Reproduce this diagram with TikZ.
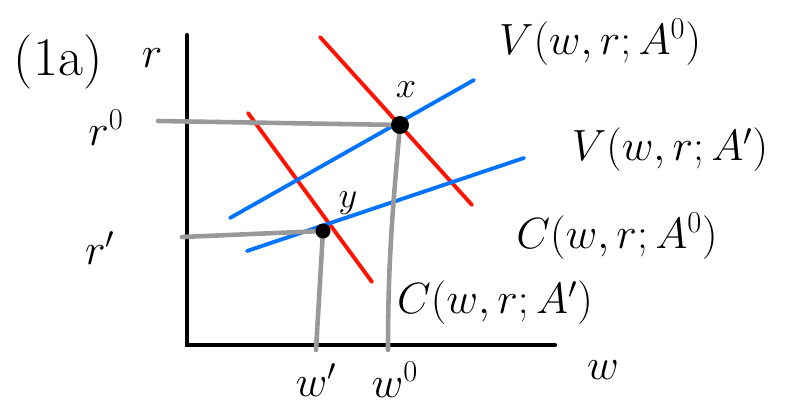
\documentclass[tikz,border=0pt]{standalone}
\usepackage{amsmath, amssymb}
\usetikzlibrary{positioning, calc}

\begin{document}
\begin{tikzpicture}[x=0.02cm, y=-0.02cm, line cap=round]

% --- Styles ---
\tikzset{
    axisLine/.style={black, line width=2.4pt},
    costLine/.style={red!85!orange, line width=2.2pt},
    valueLine/.style={blue!55!cyan, line width=2.2pt},
    guideLine/.style={black!40, line width=2.6pt},
    eqPoint/.style={circle, fill=black, inner sep=0pt, minimum size=0.36cm},
    handLabel/.style={font=\fontsize{26}{30}\selectfont, inner sep=1pt},
}

\useasboundingbox (0,0) rectangle (786,404);

% --- Axes ---
\coordinate (origin) at (187,345);
\coordinate (rTop) at (187,35);
\coordinate (wEnd) at (555,345);
\draw[axisLine] (rTop) -- (origin) -- (wEnd);
\node[handLabel] (rAxis) at (152,58) {$r$};
\node[handLabel] (wAxis) at (603,370) {$w$};
\node[handLabel, font=\fontsize{31}{36}\selectfont] (panel) at (58,62) {(1a)};

% --- Cost curves (red) ---
\coordinate (cZeroA) at (320,37);
\coordinate (cZeroB) at (472,205);
\coordinate (cOneA) at (248,113);
\coordinate (cOneB) at (372,282);
\draw[costLine] (cZeroA) -- (cZeroB);
\draw[costLine] (cOneA) -- (cOneB);

% --- Value curves (blue) ---
\coordinate (vZeroA) at (230,218);
\coordinate (vZeroB) at (474,80);
\coordinate (vOneA) at (247,251);
\coordinate (vOneB) at (524,158);
\draw[valueLine] (vZeroA) -- (vZeroB);
\draw[valueLine] (vOneA) -- (vOneB);

% --- Guide lines (gray) ---
\coordinate (rZeroStart) at (158,121);
\coordinate (rOneStart) at (182,237);
\coordinate (wOneEnd) at (316,350);
\coordinate (wZeroEnd) at (388,350);
\coordinate (xPos) at (400,125);
\coordinate (yPos) at (323,231);
\draw[guideLine] (rZeroStart) -- (xPos);
\draw[guideLine] (rOneStart) -- (yPos);
\draw[guideLine] (yPos) -- (wOneEnd);
\draw[guideLine] (xPos) to[out=-95, in=90] (wZeroEnd);

% --- Points x and y ---
\node[eqPoint] (px) at (xPos) {};
\node[eqPoint, minimum size=0.3cm] (py) at (yPos) {};
\node[handLabel, font=\huge] (lblx) at (406,90) {$x$};
\node[handLabel, font=\huge] (lbly) at (348,203) {$y$};

% --- Tick labels ---
\node[handLabel] (rZero) at (106,128) {$r^0$};
\node[handLabel] (rOne) at (100,248) {$r'$};
\node[handLabel] (wOne) at (316,380) {$w'$};
\node[handLabel] (wZero) at (395,380) {$w^0$};

% --- Curve labels ---
\node[handLabel] (lblVZero) at (600,42) {$V(w,r;A^0)$};
\node[handLabel] (lblVOne) at (670,150) {$V(w,r;A')$};
\node[handLabel] (lblCZero) at (617,236) {$C(w,r;A^0)$};
\node[handLabel] (lblCOne) at (495,303) {$C(w,r;A')$};

\end{tikzpicture}
\end{document}
